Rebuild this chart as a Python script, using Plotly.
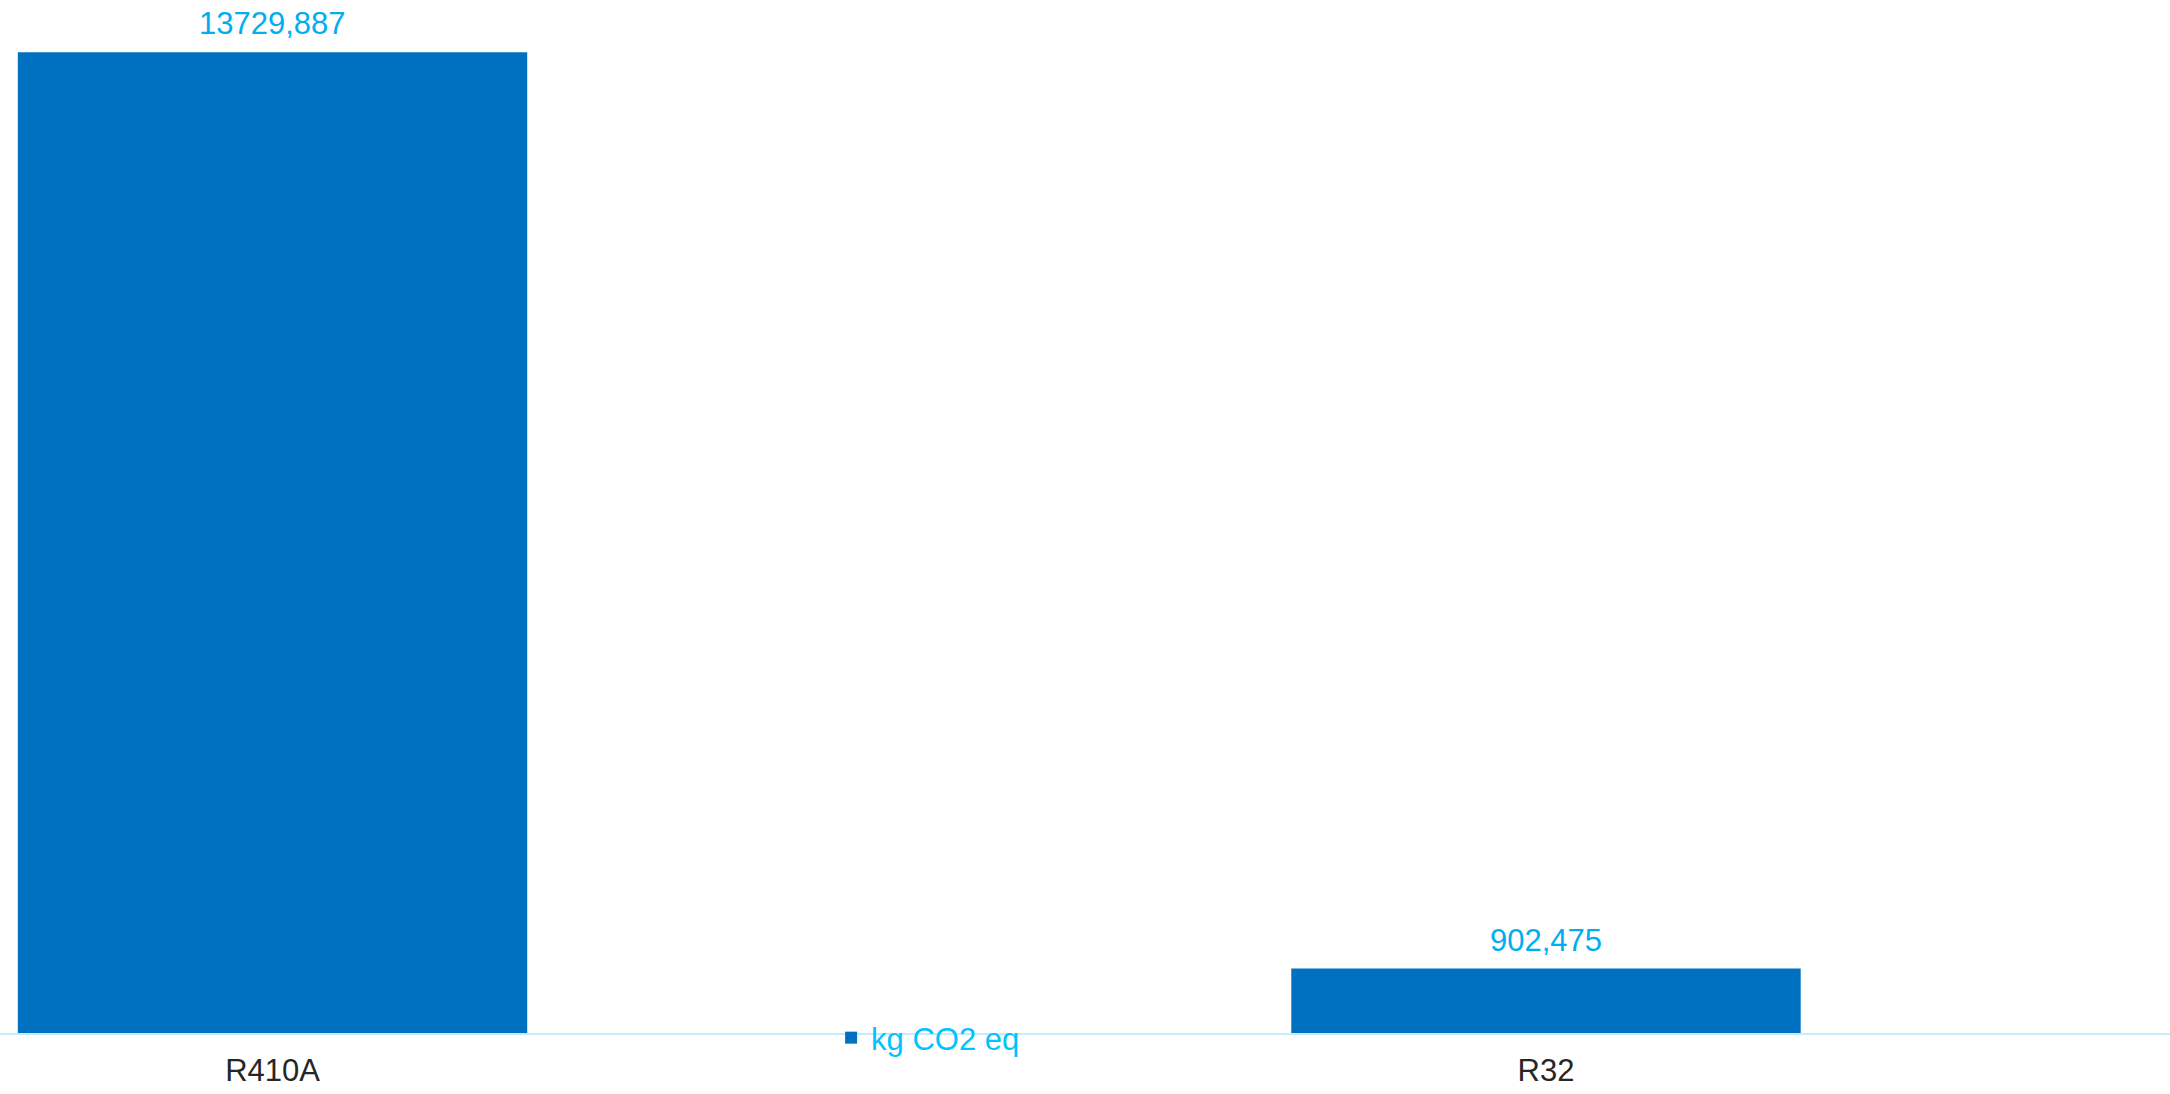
import plotly.graph_objects as go

categories = ["R410A", "R32"]
values = [13729.887, 902.475]
series_name = "kg CO2 eq"

FONT = "Liberation Sans, Arial, sans-serif"

fig = go.Figure()
fig.add_trace(go.Bar(
    x=categories,
    y=values,
    name=series_name,
    width=0.4,
    marker=dict(color="#0070C0", line=dict(width=0)),
    showlegend=True,
    hoverinfo="x+y",
))

# value labels above the bars, placed through the data axes
for c, v in zip(categories, values):
    fig.add_annotation(
        x=c, y=v, xref="x", yref="y",
        text=f"{v:.3f}".replace(".", ","),
        showarrow=False,
        yanchor="bottom",
        yshift=9,
        font=dict(family=FONT, size=31, color="#00AEEF"),
    )

fig.update_layout(
    width=2170,
    height=1094,
    margin=dict(l=0, r=0, t=33, b=61),
    paper_bgcolor="white",
    plot_bgcolor="white",
    showlegend=True,
    legend=dict(
        orientation="h",
        x=0.383, xanchor="left",
        y=-0.005, yanchor="middle",
        font=dict(family=FONT, size=31, color="#00C3FF"),
        bgcolor="rgba(0,0,0,0)",
        itemclick=False,
    ),
    xaxis=dict(
        type="category",
        range=[-0.214, 1.490],
        showline=True,
        linecolor="#C6EBFA",
        linewidth=2,
        showgrid=False,
        zeroline=False,
        ticks="outside",
        ticklen=9,
        tickcolor="rgba(0,0,0,0)",
        tickfont=dict(family=FONT, size=31, color="#262626"),
    ),
    yaxis=dict(
        range=[0, 14000],
        visible=False,
        showgrid=False,
        zeroline=False,
    ),
)

fig.write_html(
    "out.html",
    config={"displayModeBar": False},
    post_script="document.body.style.margin='0';document.body.style.overflow='hidden';",
)
